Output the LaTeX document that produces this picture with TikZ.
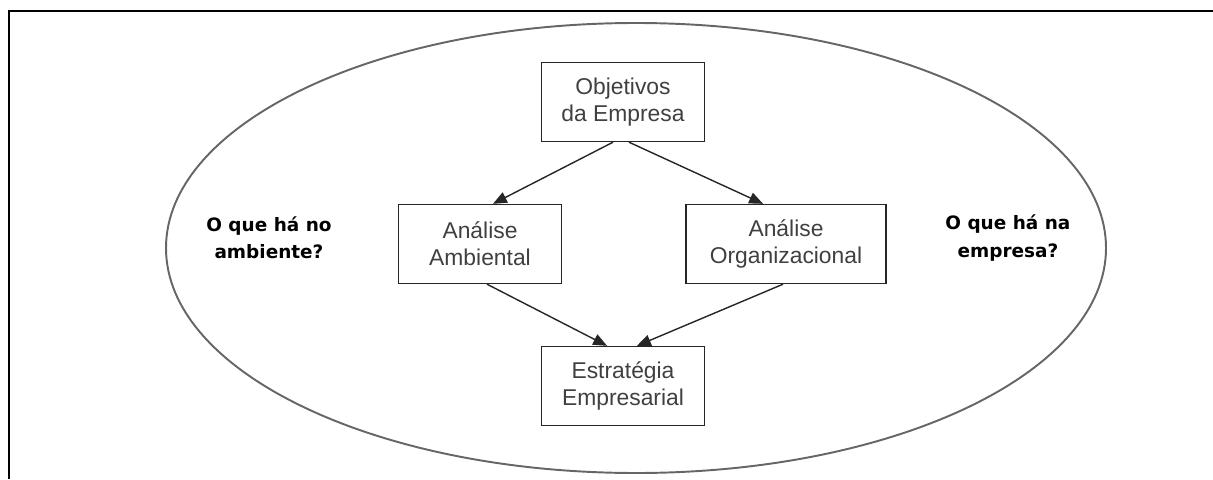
\documentclass[tikz,border=0pt]{standalone}
\usepackage{fontspec}
\setmainfont{Liberation Sans}
\newfontfamily\qfont{DejaVu Sans}
\usepackage{tikz}
\usetikzlibrary{shapes.geometric, arrows}
\usetikzlibrary{positioning}
\tikzstyle{box} = [rectangle, minimum width=3.26cm, minimum height=1.58cm, align=center, draw=black!85, line width=0.8pt, text=black!75, font=\fontsize{13}{15.5}\selectfont]
\tikzstyle{question} = [align=center, font=\qfont\fontsize{10.5}{15.5}\selectfont\bfseries]
\tikzstyle{arrow} = [line width=0.8pt, draw=black!85, ->, >=triangle 45]

\begin{document}
\begin{tikzpicture}[node distance=2.84 cm]
    \useasboundingbox (0,0) rectangle (24.26,9.58);
    \draw [line width=1.6pt] (0.18,0) -- (0.18,9.36) -- (24.26,9.36);
    \draw [line width=1.1pt, black!60] (12.72,4.62) ellipse (9.4 and 4.5);
    \node (obj) [box] at (12.46,7.54) {Objetivos\\da Empresa};
    \node (amb) [box, below of = obj, xshift=-2.86 cm] {Análise\\Ambiental};
    \node (org) [box, below of = obj, xshift=3.26 cm, minimum width=4cm] {Análise\\Organizacional};
    \node (est) [box, below of = amb, xshift=2.86 cm] {Estratégia\\Empresarial};
    \node (qamb) [question, left=1.2cm of amb, yshift=0.12cm] {O que há no\\ambiente?};
    \node (qemp) [question, right=1.05cm of org, yshift=0.12cm] {O que há na\\empresa?};
    \draw [arrow] ([xshift=-0.2cm]obj.south) -- ([xshift=0.26cm]amb.north);
    \draw [arrow] ([xshift=0.12cm]obj.south) -- ([xshift=-0.46cm]org.north);
    \draw [arrow] ([xshift=0.14cm]amb.south) -- ([xshift=-0.32cm]est.north);
    \draw [arrow] ([xshift=-0.06cm]org.south) -- ([xshift=0.28cm]est.north);
\end{tikzpicture}
\end{document}
